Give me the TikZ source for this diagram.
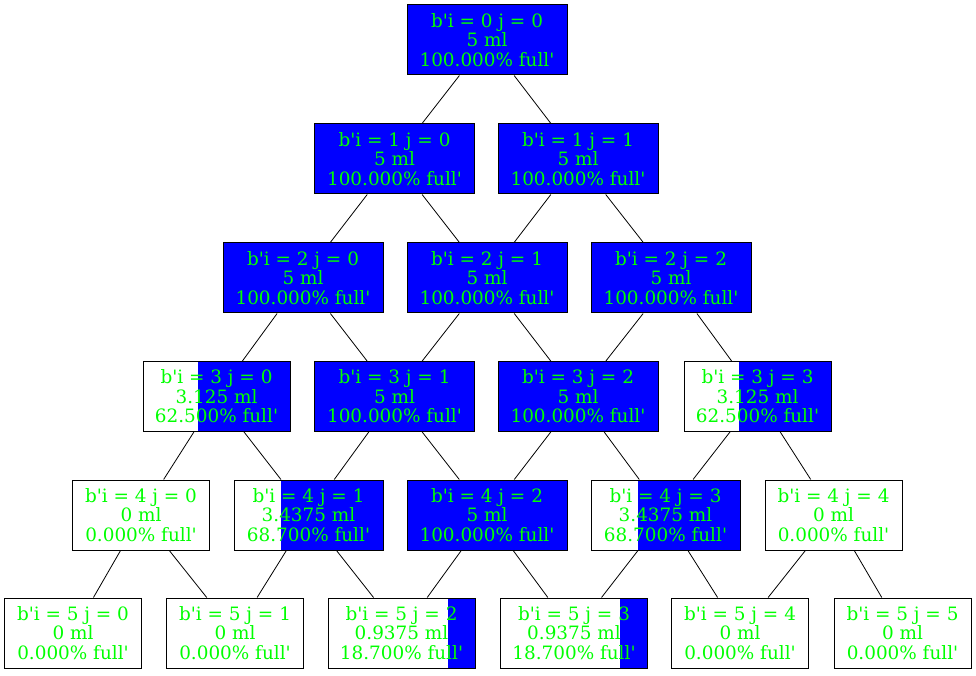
\documentclass[tikz,border=0pt]{standalone}
\usepackage{fontspec}
\setmainfont{DejaVu Serif}[Ligatures=TeXOff]
\usetikzlibrary{calc}
\newcommand{\BoxHeight}{70pt}
\newcommand{\FullWidth}{160pt}
\newcommand{\PartWidth}{147pt}
\newcommand{\EmptyWidth}{137pt}
\definecolor{CupBlue}{RGB}{0, 0, 255}
\definecolor{CupText}{RGB}{0, 255, 0}

\begin{document}
\begin{tikzpicture}[x=1pt,y=1pt]
  \tikzset{
    cell/.style={draw=black, line width=1pt, rectangle, inner sep=0pt, align=center,
      minimum height=\BoxHeight, text=CupText, font=\fontsize{18.4}{19.4}\selectfont},
    level/.style={path picture={\fill[CupBlue]
      ($(path picture bounding box.north east)!#1!(path picture bounding box.north west)$)
      rectangle (path picture bounding box.south east);}},
    edge/.style={draw=black, line width=0.8pt}
  }
  \useasboundingbox (0,0) rectangle (976,675);

  % Row 0
  \node[cell, minimum width=\FullWidth, level=1] (n00) at (487,635) {b'i = 0 j = 0\\5 ml\\100.000\% full'};

  % Row 1
  \node[cell, minimum width=\FullWidth, level=1] (n10) at (394.5,516) {b'i = 1 j = 0\\5 ml\\100.000\% full'};
  \node[cell, minimum width=\FullWidth, level=1] (n11) at (578,516) {b'i = 1 j = 1\\5 ml\\100.000\% full'};

  % Row 2
  \node[cell, minimum width=\FullWidth, level=1] (n20) at (303,397) {b'i = 2 j = 0\\5 ml\\100.000\% full'};
  \node[cell, minimum width=\FullWidth, level=1] (n21) at (487,397) {b'i = 2 j = 1\\5 ml\\100.000\% full'};
  \node[cell, minimum width=\FullWidth, level=1] (n22) at (671,397) {b'i = 2 j = 2\\5 ml\\100.000\% full'};

  % Row 3
  \node[cell, minimum width=\PartWidth, level=0.625] (n30) at (216.5,278.5) {b'i = 3 j = 0\\3.125 ml\\62.500\% full'};
  \node[cell, minimum width=\FullWidth, level=1] (n31) at (394.5,278.5) {b'i = 3 j = 1\\5 ml\\100.000\% full'};
  \node[cell, minimum width=\FullWidth, level=1] (n32) at (578,278.5) {b'i = 3 j = 2\\5 ml\\100.000\% full'};
  \node[cell, minimum width=\PartWidth, level=0.625] (n33) at (757.5,278.5) {b'i = 3 j = 3\\3.125 ml\\62.500\% full'};

  % Row 4
  \node[cell, minimum width=\EmptyWidth] (n40) at (141,160) {b'i = 4 j = 0\\0 ml\\0.000\% full'};
  \node[cell, minimum width=149pt, level=0.687] (n41) at (308.5,160) {b'i = 4 j = 1\\3.4375 ml\\68.700\% full'};
  \node[cell, minimum width=\FullWidth, level=1] (n42) at (487,160) {b'i = 4 j = 2\\5 ml\\100.000\% full'};
  \node[cell, minimum width=149pt, level=0.687] (n43) at (665.5,160) {b'i = 4 j = 3\\3.4375 ml\\68.700\% full'};
  \node[cell, minimum width=\EmptyWidth] (n44) at (833.5,160) {b'i = 4 j = 4\\0 ml\\0.000\% full'};

  % Row 5
  \node[cell, minimum width=\EmptyWidth] (n50) at (73,42) {b'i = 5 j = 0\\0 ml\\0.000\% full'};
  \node[cell, minimum width=\EmptyWidth] (n51) at (235,42) {b'i = 5 j = 1\\0 ml\\0.000\% full'};
  \node[cell, minimum width=\PartWidth, level=0.187] (n52) at (401.5,42) {b'i = 5 j = 2\\0.9375 ml\\18.700\% full'};
  \node[cell, minimum width=\PartWidth, level=0.187] (n53) at (574,42) {b'i = 5 j = 3\\0.9375 ml\\18.700\% full'};
  \node[cell, minimum width=\EmptyWidth] (n54) at (740,42) {b'i = 5 j = 4\\0 ml\\0.000\% full'};
  \node[cell, minimum width=\EmptyWidth] (n55) at (902.5,42) {b'i = 5 j = 5\\0 ml\\0.000\% full'};

  % Pouring
  \draw[edge] (n00) -- (n10); \draw[edge] (n00) -- (n11);
  \draw[edge] (n10) -- (n20); \draw[edge] (n10) -- (n21);
  \draw[edge] (n11) -- (n21); \draw[edge] (n11) -- (n22);
  \draw[edge] (n20) -- (n30); \draw[edge] (n20) -- (n31);
  \draw[edge] (n21) -- (n31); \draw[edge] (n21) -- (n32);
  \draw[edge] (n22) -- (n32); \draw[edge] (n22) -- (n33);
  \draw[edge] (n30) -- (n40); \draw[edge] (n30) -- (n41);
  \draw[edge] (n31) -- (n41); \draw[edge] (n31) -- (n42);
  \draw[edge] (n32) -- (n42); \draw[edge] (n32) -- (n43);
  \draw[edge] (n33) -- (n43); \draw[edge] (n33) -- (n44);
  \draw[edge] (n40) -- (n50); \draw[edge] (n40) -- (n51);
  \draw[edge] (n41) -- (n51); \draw[edge] (n41) -- (n52);
  \draw[edge] (n42) -- (n52); \draw[edge] (n42) -- (n53);
  \draw[edge] (n43) -- (n53); \draw[edge] (n43) -- (n54);
  \draw[edge] (n44) -- (n54); \draw[edge] (n44) -- (n55);
\end{tikzpicture}
\end{document}
